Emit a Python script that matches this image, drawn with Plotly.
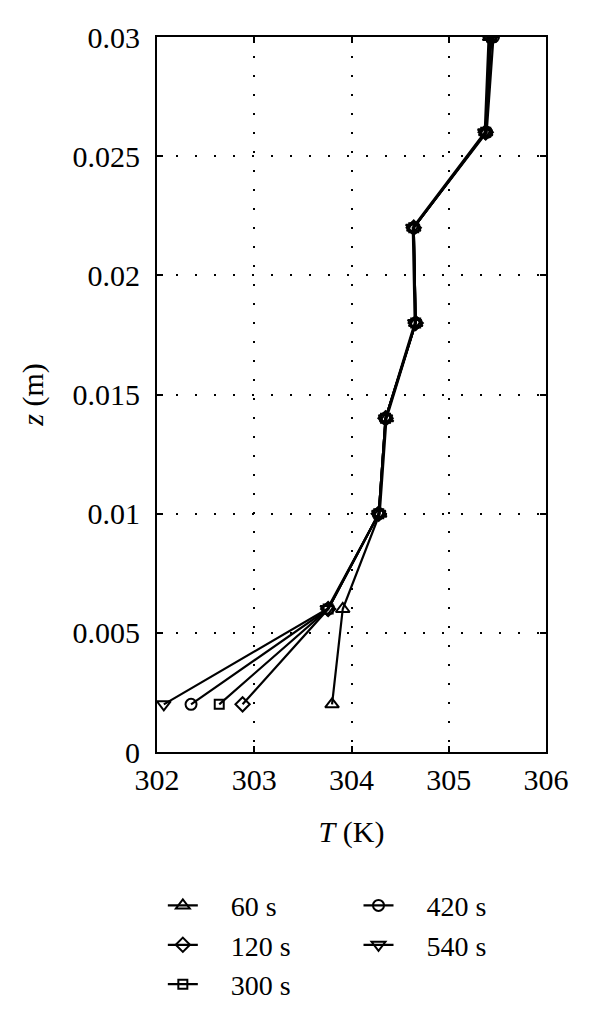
import plotly.graph_objects as go

z = [0.002, 0.006, 0.01, 0.014, 0.018, 0.022, 0.026, 0.03]
series_names = ["60 s", "120 s", "300 s", "420 s", "540 s"]
T_60 = [303.80, 303.91, 304.29, 304.36, 304.66, 304.64, 305.38, 305.42]
T_120 = [302.88, 303.76, 304.28, 304.35, 304.66, 304.64, 305.38, 305.43]
T_300 = [302.64, 303.76, 304.28, 304.35, 304.66, 304.64, 305.38, 305.44]
T_420 = [302.35, 303.76, 304.28, 304.35, 304.66, 304.64, 305.39, 305.46]
T_540 = [302.07, 303.75, 304.28, 304.35, 304.65, 304.63, 305.37, 305.41]
symbols = ["triangle-up-open", "diamond-open", "square-open", "circle-open", "triangle-down-open"]
sizes = [12, 11, 9, 11, 12]
legends = ["legend", "legend", "legend", "legend2", "legend2"]
x_ticks = [302, 303, 304, 305, 306]
y_ticks = [0, 0.005, 0.01, 0.015, 0.02, 0.025, 0.03]
y_tick_text = ["0", "0.005", "0.01", "0.015", "0.02", "0.025", "0.03"]

FONT = "Liberation Serif"
FS = 30
LFS = 28
PAD = "\u00a0\u00a0\u00a0\u00a0"
fig = go.Figure()
for name, T, sym, sz, lg in zip(series_names, [T_60, T_120, T_300, T_420, T_540], symbols, sizes, legends):
    fig.add_trace(go.Scatter(
        x=T, y=z, name=PAD + name, mode="lines+markers",
        line=dict(color="black", width=2.2),
        marker=dict(symbol=sym, size=sz, color="black", line=dict(color="black", width=2)),
        legend=lg,
    ))

axis_common = dict(
    showline=True, linecolor="black", linewidth=2, mirror="ticks",
    ticks="inside", ticklen=6, tickwidth=1.5, tickcolor="black",
    showgrid=True, gridcolor="black", gridwidth=1.5, griddash="2px,17px",
    zeroline=False, tickfont=dict(family=FONT, size=FS, color="black"),
    title_font=dict(family=FONT, size=FS, color="black"),
)
fig.update_xaxes(range=[302, 306], tickvals=x_ticks, title_text="<i>T</i> (K)", title_standoff=26, **axis_common)
fig.update_yaxes(range=[0, 0.03], tickvals=y_ticks, ticktext=y_tick_text, ticklabelstandoff=9,
                 title_text="<i>z</i> (m)", title_standoff=20, **axis_common)

leg_common = dict(font=dict(family=FONT, size=LFS, color="black"), bgcolor="rgba(0,0,0,0)",
                  orientation="v", xanchor="left", yanchor="top", tracegroupgap=0)
fig.update_layout(
    width=590, height=1030,
    margin=dict(l=149, r=52, t=29, b=286),
    plot_bgcolor="white", paper_bgcolor="white",
    showlegend=True,
    legend=dict(x=0.015, y=-0.18, **leg_common),
    legend2=dict(x=0.518, y=-0.18, **leg_common),
    font=dict(family=FONT, color="black"),
)
fig.write_html("out.html")
